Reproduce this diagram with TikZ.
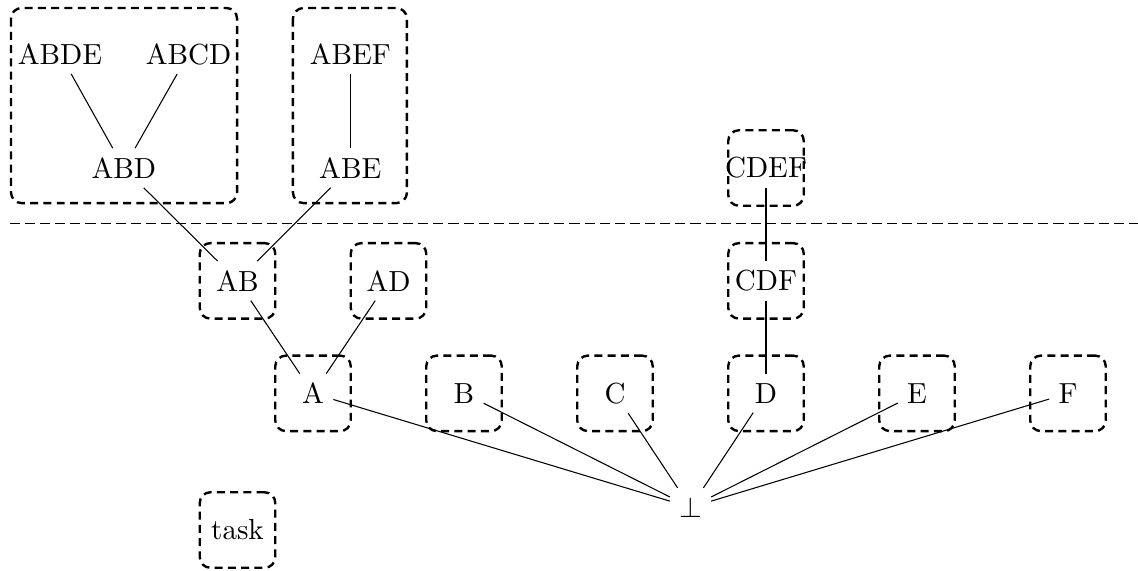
\documentclass[tikz,border=0pt]{standalone}
\begin{document}
\begin{tikzpicture}[x=1cm,y=1cm,
  every node/.style={font=\fontsize{10.95}{13.6}\selectfont},
  lbl/.style={inner sep=0.3333em},
  box/.style={draw, line width=0.9pt, dash pattern=on 3pt off 2pt, rounded corners=4pt, minimum size=1cm, inner sep=0pt},
  grp/.style={draw, line width=0.9pt, dash pattern=on 3pt off 2pt, rounded corners=4pt},
  edge/.style={line width=0.4pt},
  sep/.style={line width=0.4pt, dash pattern=on 3.8pt off 1.9pt}]
\useasboundingbox (0,0) rectangle (15.073,-7.55);
% group boxes
\draw[grp] (0.146,-0.106) rectangle (3.14,-2.69);
\draw[grp] (3.88,-0.106) rectangle (5.39,-2.69);
% separator
\draw[sep] (0.13,-2.96) -- (15.073,-2.96);
% nodes
\node[lbl] (ABDE) at (0.795,-0.715) {ABDE};
\node[lbl] (ABCD) at (2.497,-0.715) {ABCD};
\node[lbl] (ABD) at (1.64,-2.225) {ABD};
\node[lbl] (ABEF) at (4.64,-0.715) {ABEF};
\node[lbl] (ABE) at (4.64,-2.225) {ABE};
\node[lbl] (CDEF) at (10.146,-2.225) {CDEF};
\node[lbl] (AB) at (3.146,-3.72) {AB};
\node[lbl] (AD) at (5.146,-3.72) {AD};
\node[lbl] (CDF) at (10.146,-3.72) {CDF};
\node[lbl] (A) at (4.146,-5.21) {A};
\node[lbl] (B) at (6.146,-5.21) {B};
\node[lbl] (C) at (8.146,-5.21) {C};
\node[lbl] (D) at (10.146,-5.21) {D};
\node[lbl] (E) at (12.146,-5.21) {E};
\node[lbl] (F) at (14.146,-5.21) {F};
\node[lbl] (bot) at (9.146,-6.72) {$\bot$};
\node[lbl] (task) at (3.146,-7.02) {task};
% boxes around single nodes
\foreach \n in {CDEF,AB,AD,CDF,A,B,C,D,E,F,task}
  \node[box] (box\n) at (\n) {};
% connectors
\draw[edge] (ABDE) -- (ABD);
\draw[edge] (ABCD) -- (ABD);
\draw[edge] (ABEF) -- (ABE);
\draw[edge] (ABD) -- (AB);
\draw[edge] (ABE) -- (AB);
\draw[edge] (AB) -- (A);
\draw[edge] (AD) -- (A);
\draw[edge] (CDEF) -- (CDF);
\draw[edge] (CDF) -- (D);
\foreach \n in {A,B,C,D,E,F}
  \draw[edge] (\n) -- (bot);
\end{tikzpicture}
\end{document}
